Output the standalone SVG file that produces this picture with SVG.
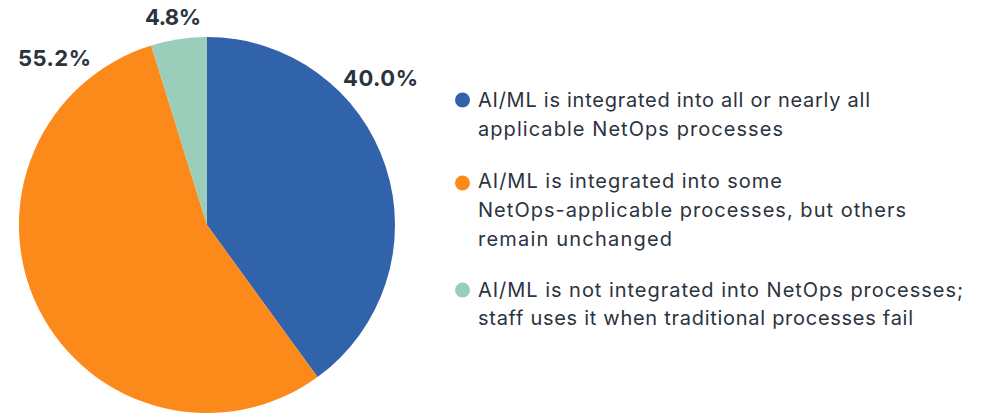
<svg xmlns="http://www.w3.org/2000/svg" width="983" height="415" viewBox="0 0 983 415">
<style>
.pct{font-family:Inter,"Liberation Sans",sans-serif;font-weight:700;font-size:22px;fill:#2b3340}
.leg{font-family:Inter,"Liberation Sans",sans-serif;font-size:20px;fill:#2b3340}
</style>
<rect width="983" height="415" fill="#ffffff"/>
<g id="slice-blue"><path d="M207,225 L207,37 A188,188 0 0 1 317.5,377.1 Z" fill="#3163ab"/></g>
<g id="slice-orange"><path d="M207,225 L317.5,377.1 A188,188 0 1 1 151.2,45.5 Z" fill="#fc8a1b"/></g>
<g id="slice-green"><path d="M207,225 L151.2,45.5 A188,188 0 0 1 207,37 Z" fill="#9bcdbb"/></g>
<g id="labels">
<text class="pct" x="145" y="25" textLength="56">4.8%</text>
<text class="pct" x="18" y="66" textLength="73">55.2%</text>
<text class="pct" x="343" y="86" textLength="75">40.0%</text>
</g>
<g id="legend-1">
<circle cx="462.5" cy="100" r="7.5" fill="#3163ab"/>
<text class="leg" x="478" y="107" textLength="392">AI/ML is integrated into all or nearly all</text>
<text class="leg" x="478" y="136" textLength="305">applicable NetOps processes</text>
</g>
<g id="legend-2">
<circle cx="462.5" cy="183" r="7.5" fill="#fc8a1b"/>
<text class="leg" x="478" y="188" textLength="304">AI/ML is integrated into some</text>
<text class="leg" x="478" y="217" textLength="428">NetOps-applicable processes, but others</text>
<text class="leg" x="478" y="246" textLength="194">remain unchanged</text>
</g>
<g id="legend-3">
<circle cx="462.5" cy="290" r="7.5" fill="#9bcdbb"/>
<text class="leg" x="478" y="296.5" textLength="485">AI/ML is not integrated into NetOps processes;</text>
<text class="leg" x="478" y="325" textLength="435">staff uses it when traditional processes fail</text>
</g>
<g id="connectors"></g>
</svg>
